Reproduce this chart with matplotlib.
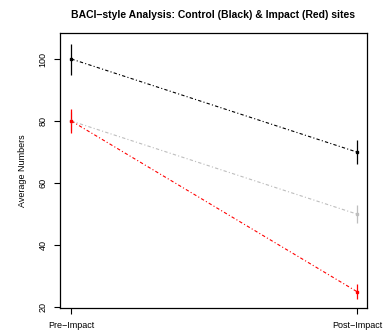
import matplotlib
matplotlib.use("Agg")
import matplotlib.pyplot as plt

periods = ["Pre\u2212Impact", "Post\u2212Impact"]
x_pos = [1, 2]

control_mean = [100, 70]
control_se = [5, 4]
impact_mean = [80, 25]
impact_se = [4, 2.5]
nochange_mean = [80, 50]
nochange_se = [3, 3]

plt.rcParams['font.family'] = ['Liberation Sans', 'DejaVu Sans']

fig = plt.figure(figsize=(3.87, 3.33), dpi=100)
ax = fig.add_axes([0.155, 0.075, 0.793, 0.826])

dash = (0, (3, 2, 1, 2))
series = [
    (nochange_mean, nochange_se, '#bebebe'),
    (control_mean, control_se, 'black'),
    (impact_mean, impact_se, 'red'),
]
for mean, se, col in series:
    ax.plot(x_pos, mean, color=col, linestyle=dash, linewidth=0.8)
    ax.errorbar(x_pos, mean, yerr=se, fmt='s', color=col, markersize=2.0,
                elinewidth=0.9, capsize=0)

ax.set_xlim(0.96, 2.035)
ax.set_ylim(19.7, 108.4)
ax.set_xticks(x_pos)
ax.set_xticklabels(periods)
ax.set_yticks([20, 40, 60, 80, 100])
ax.set_yticklabels(['20', '40', '60', '80', '100'], rotation=90, va='center')
ax.tick_params(direction='out', length=4, width=0.8, labelsize=6.5, pad=5)
for s in ax.spines.values():
    s.set_linewidth(0.9)

ax.set_ylabel("Average Numbers", fontsize=6.5, labelpad=8)
ax.set_title("BACI\u2212style Analysis: Control (Black) & Impact (Red) sites",
             fontsize=7.5, fontweight='bold', pad=11)

fig.savefig("out.png", dpi=100)
